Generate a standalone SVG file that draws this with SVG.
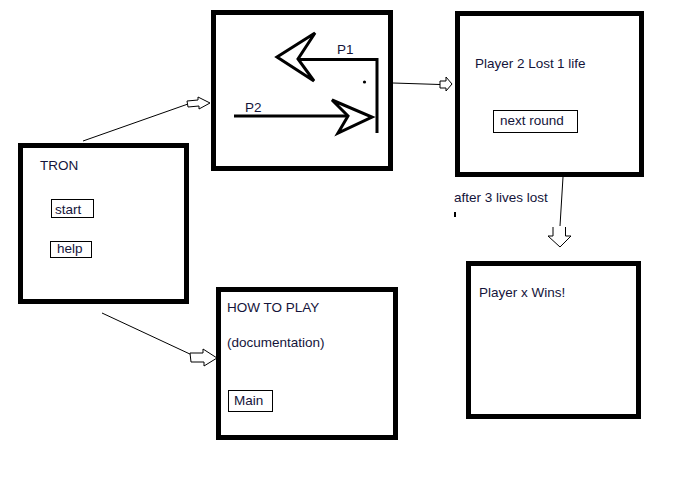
<svg xmlns="http://www.w3.org/2000/svg" width="696" height="483" viewBox="0 0 696 483">
<style>
.box{fill:none;stroke:#000;stroke-width:5}
.btn{fill:none;stroke:#000;stroke-width:1}
.t{font-family:"Liberation Sans",Arial,sans-serif;font-size:13.5px;fill:#14143a}
.con{fill:none;stroke:#000;stroke-width:1}
.ha{fill:#fff;stroke:#000;stroke-width:1;stroke-linejoin:miter}
.draw{fill:none;stroke:#000;stroke-width:3;stroke-linejoin:miter}
</style>
<rect width="696" height="483" fill="#fff"/>
<g id="connectors">
<line class="con" x1="83" y1="141" x2="188" y2="104"/>
<path class="ha" d="M187,101 L198,100 L198,97 L210,103 L199,109 L199,106 L188,107 Z"/>
<line class="con" x1="393" y1="83" x2="440" y2="84.5"/>
<path class="ha" d="M440,81 L446,81 L446,77 L452,84 L446,91 L446,88 L440,88 Z"/>
<line class="con" x1="563" y1="177" x2="560" y2="226"/>
<path class="con" d="M553,227 V236 H548 L560,247 L571,236 H565.5 V227"/>
<line class="con" x1="102" y1="313" x2="192" y2="355"/>
<path class="ha" d="M190,353 L203,353 L203,349 L217,358 L204,366 L204,362 L191,362 Z"/>
<text class="t" x="454" y="202">after 3 lives lost</text>
<rect x="454" y="212" width="2" height="5" fill="#000"/>
</g>
<g id="tron">
<rect class="box" x="20.5" y="145.5" width="166" height="156"/>
<text class="t" x="40" y="170">TRON</text>
<rect class="btn" x="51.5" y="199.5" width="42" height="18"/>
<text class="t" x="55" y="214">start</text>
<rect class="btn" x="50.5" y="241.5" width="41" height="16"/>
<text class="t" x="57" y="253">help</text>
</g>
<g id="game">
<rect class="box" x="213.5" y="12.5" width="177" height="156"/>
<path class="draw" d="M300,59.5 H377 V133"/>
<path class="draw" d="M315,33 L277,57 L314,81 L298,59 Z"/>
<circle cx="364.5" cy="82" r="1.6" fill="#000"/>
<text class="t" x="337" y="54">P1</text>
<path class="draw" d="M234,116 H348"/>
<path class="draw" d="M332,100 L372,117 L338,133 L348,116 Z"/>
<text class="t" x="245" y="112">P2</text>
</g>
<g id="lost">
<rect class="box" x="457.5" y="13.5" width="184" height="161"/>
<text class="t" x="475" y="68">Player 2 Lost</text>
<text class="t" x="557" y="68">1 life</text>
<rect class="btn" x="493.5" y="110.5" width="84" height="22"/>
<text class="t" x="500" y="125">next round</text>
</g>
<g id="howto">
<rect class="box" x="218.5" y="289.5" width="177" height="148"/>
<text class="t" x="227" y="312">HOW TO PLAY</text>
<text class="t" x="227" y="347">(documentation)</text>
<rect class="btn" x="228.5" y="390.5" width="44" height="21"/>
<text class="t" x="234" y="405">Main</text>
</g>
<g id="wins">
<rect class="box" x="468.5" y="263.5" width="170" height="153"/>
<text class="t" x="479" y="297">Player x Wins!</text>
</g>
</svg>
